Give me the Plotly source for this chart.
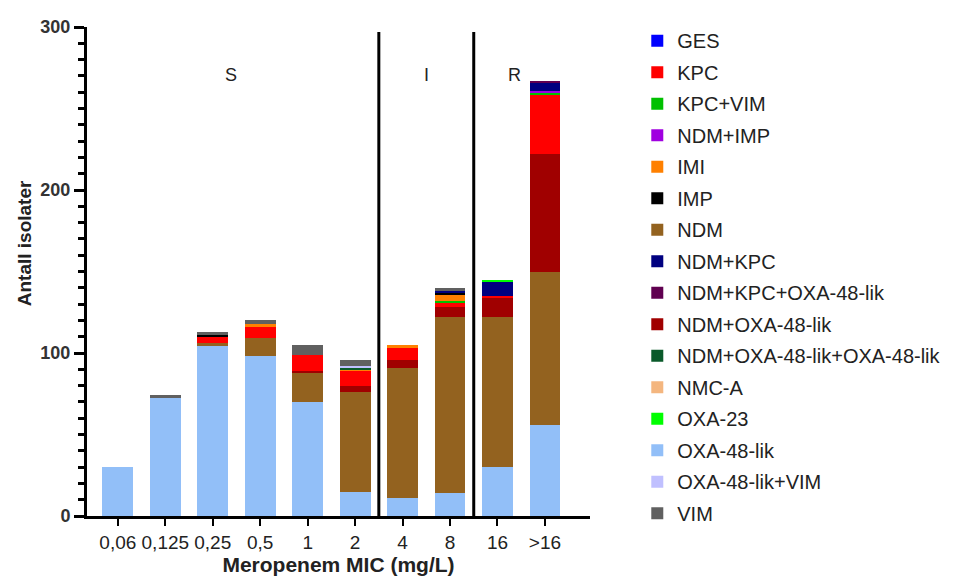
import plotly.graph_objects as go

categories = ["0,06", "0,125", "0,25", "0,5", "1", "2", "4", "8", "16", ">16"]

# series values (bottom to top stacking order)
oxa48 = [30, 73, 104, 98, 70, 15, 11, 14, 30, 56]
ndm = [0, 0, 2, 11, 18, 61, 80, 108, 92, 94]
ndm_oxa48 = [0, 0, 0, 0, 1, 4, 5, 6, 12, 72]
kpc = [0, 0, 4, 7, 10, 9, 7, 3, 1, 36]
kpc_vim = [0, 0, 0, 0, 0, 0, 0, 1, 0, 2]
ndm_imp = [0, 0, 0, 0, 0, 0, 0, 0, 0, 1]
imi = [0, 0, 0, 2, 0, 1, 2, 4, 0, 0]
nmc_a = [0, 0, 0, 0, 0, 0, 0, 0, 0, 0]
ndm_oxa48_oxa48 = [0, 0, 0, 0, 0, 1, 0, 0, 0, 0]
oxa48_vim = [0, 0, 0, 0, 0, 1, 0, 0, 0, 0]
imp = [0, 0, 1, 0, 0, 0, 0, 1, 0, 0]
ndm_kpc = [0, 0, 0, 0, 0, 0, 0, 1, 9, 5]
ndm_kpc_oxa48 = [0, 0, 0, 0, 0, 0, 0, 0, 0, 1]
oxa23 = [0, 0, 0, 0, 0, 0, 0, 0, 1, 0]
ges = [0, 0, 0, 0, 0, 0, 0, 0, 0, 0]
vim = [0, 1, 2, 2, 6, 4, 0, 2, 0, 0]

# (name, values, colour, legend rank)
series = [
    ("OXA-48-lik", oxa48, "#92BFF8", 14),
    ("NDM", ndm, "#93621F", 7),
    ("NDM+OXA-48-lik", ndm_oxa48, "#A00000", 10),
    ("KPC", kpc, "#FF0000", 2),
    ("KPC+VIM", kpc_vim, "#00C000", 3),
    ("NDM+IMP", ndm_imp, "#A000E0", 4),
    ("IMI", imi, "#FF8000", 5),
    ("NMC-A", nmc_a, "#F4B67F", 12),
    ("NDM+OXA-48-lik+OXA-48-lik", ndm_oxa48_oxa48, "#0A5A2A", 11),
    ("OXA-48-lik+VIM", oxa48_vim, "#C0C0FF", 15),
    ("IMP", imp, "#000000", 6),
    ("NDM+KPC", ndm_kpc, "#000080", 8),
    ("NDM+KPC+OXA-48-lik", ndm_kpc_oxa48, "#600050", 9),
    ("OXA-23", oxa23, "#00FF00", 13),
    ("GES", ges, "#0000FF", 1),
    ("VIM", vim, "#606060", 16),
]

fig = go.Figure()
for name, vals, col, rank in series:
    fig.add_trace(go.Bar(
        x=categories, y=vals, name=name,
        marker=dict(color=col, line=dict(width=0)),
        legendrank=rank, legendgroup=name,
    ))

font_family = "Liberation Sans, Arial, sans-serif"

fig.update_layout(
    barmode="stack",
    bargap=0.35,
    width=957, height=571,
    margin=dict(l=79, r=375, t=19, b=63, autoexpand=False),
    plot_bgcolor="white", paper_bgcolor="white",
    font=dict(family=font_family, color="#222222"),
    showlegend=True,
    legend=dict(
        x=1.094, xanchor="left", y=1.012, yanchor="top",
        font=dict(size=20, color="#222222"),
        tracegroupgap=2.5,
        traceorder="grouped",
        itemwidth=30,
        maxheight=565,
    ),
    xaxis=dict(
        type="category",
        range=[-0.65, 9.95],
        automargin=False,
        showline=True, linecolor="black", linewidth=3,
        ticks="outside", ticklen=7, tickwidth=2, tickcolor="black",
        tickfont=dict(size=19, color="#222222"),
        showgrid=False, zeroline=False,
        title=dict(text="<b>Meropenem MIC (mg/L)</b>", font=dict(size=21, color="#222222"), standoff=6),
    ),
    yaxis=dict(
        range=[0, 300],
        automargin=False,
        tickvals=[0, 100, 200, 300],
        ticktext=["<b>0</b>", "<b>100</b>", "<b>200</b>", "<b>300</b>"],
        showline=True, linecolor="black", linewidth=3,
        ticks="outside", ticklen=10, tickwidth=3, tickcolor="black",
        tickfont=dict(size=18, color="#333333"),
        minor=dict(dtick=10, ticks="outside", ticklen=6, tickwidth=3, tickcolor="black", showgrid=False),
        showgrid=False, zeroline=False,
    ),
)

# y-axis title placed where the reference has it (slightly above the plot's middle)
fig.add_annotation(x=-0.125, xref="paper", xanchor="center", y=0.558,
                   yref="paper", yanchor="middle", text="<b>Antall isolater</b>", textangle=-90,
                   showarrow=False, font=dict(size=19, color="#222222", family=font_family))

for xpos in [5.5, 7.5]:
    fig.add_shape(type="line", xref="x", yref="y", x0=xpos, x1=xpos, y0=0, y1=297,
                  line=dict(color="black", width=3))

for txt, xpos in [("S", 2.38), ("I", 6.5), ("R", 8.36)]:
    fig.add_annotation(x=xpos, y=270.5, xref="x", yref="y", text=txt, showarrow=False,
                       font=dict(size=18, color="#222222", family=font_family))

fig.write_html("out.html")
